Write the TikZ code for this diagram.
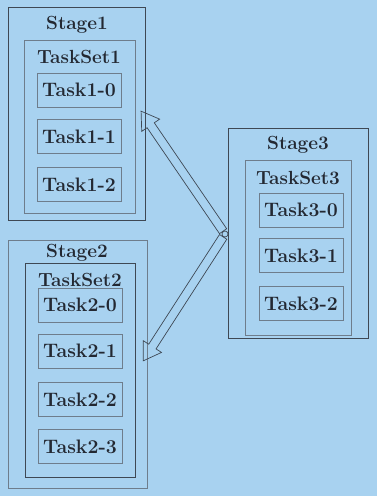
\documentclass[tikz,border=0pt]{standalone}
\usetikzlibrary{calc,shapes.arrows}
\definecolor{bg}{RGB}{168,210,240}
\definecolor{inkdark}{RGB}{62,72,84}
\definecolor{inklight}{RGB}{110,125,140}
\definecolor{txt}{RGB}{35,40,50}
\begin{document}
\begin{tikzpicture}[x=1pt,y=-1pt,
  every node/.style={inner sep=0pt,outer sep=0pt,text=txt},
  lbl/.style={font=\fontsize{19}{21}\selectfont\bfseries},
  box/.style={draw=#1,line width=0.8pt,anchor=north west},
  taskbox/.style={draw=inklight,line width=0.7pt,minimum width=84pt,minimum height=34pt,
     font=\fontsize{19.5}{21}\selectfont\bfseries},
  hollow/.style={single arrow,draw=inkdark,line width=0.7pt,text height=0pt,text depth=0pt,
     inner xsep=0pt,inner ysep=4pt,single arrow head extend=6.5pt,single arrow tip angle=65}]
\fill[bg] (0,0) rectangle (377,496);
\useasboundingbox (0,0) rectangle (377,496);

% Stage 1
\node[box=inkdark,minimum width=137pt,minimum height=213pt] (s1) at (8,7) {};
\node[lbl] (s1l) at (77,25) {Stage1};
\node[box=inklight,minimum width=111pt,minimum height=173pt] (ts1) at (24,40) {};
\node[lbl] (ts1l) at (79,57) {TaskSet1};
\node[taskbox] (t10) at (79,90) {Task1-0};
\node[taskbox] (t11) at (79,136.5) {Task1-1};
\node[taskbox] (t12) at (79,184.5) {Task1-2};

% Stage 2
\node[box=inklight,minimum width=139pt,minimum height=248pt] (s2) at (8,240) {};
\node[lbl] (s2l) at (77,253) {Stage2};
\node[box=inkdark,minimum width=110pt,minimum height=214pt] (ts2) at (25,263) {};
\node[lbl] (ts2l) at (80,280) {TaskSet2};
\node[taskbox] (t20) at (80,305) {Task2-0};
\node[taskbox] (t21) at (80,351) {Task2-1};
\node[taskbox] (t22) at (80,399.5) {Task2-2};
\node[taskbox] (t23) at (80,446.5) {Task2-3};

% Stage 3
\node[box=inkdark,minimum width=140pt,minimum height=210pt] (s3) at (228,128) {};
\node[lbl] (s3l) at (298,145) {Stage3};
\node[box=inklight,minimum width=106pt,minimum height=175pt] (ts3) at (245,160) {};
\node[lbl] (ts3l) at (298,178) {TaskSet3};
\node[taskbox] (t30) at (301,210) {Task3-0};
\node[taskbox] (t31) at (301,255.5) {Task3-1};
\node[taskbox] (t32) at (301,303.5) {Task3-2};

% hub and hollow arrows
\node[circle,draw=inkdark,line width=0.7pt,minimum size=6pt] (hub) at (225,234) {};
\coordinate (tip1) at (143,114);
\coordinate (tip2) at (145,358);
\path let \p1=($(tip1)-(hub)$), \n1={atan2(\y1,\x1)}, \n2={veclen(\x1,\y1)} in
  node[hollow,minimum height=\n2,rotate=\n1] (a1) at ($(hub)!0.5!(tip1)$) {};
\path let \p1=($(tip2)-(hub)$), \n1={atan2(\y1,\x1)}, \n2={veclen(\x1,\y1)} in
  node[hollow,minimum height=\n2,rotate=\n1] (a2) at ($(hub)!0.5!(tip2)$) {};
\end{tikzpicture}
\end{document}
